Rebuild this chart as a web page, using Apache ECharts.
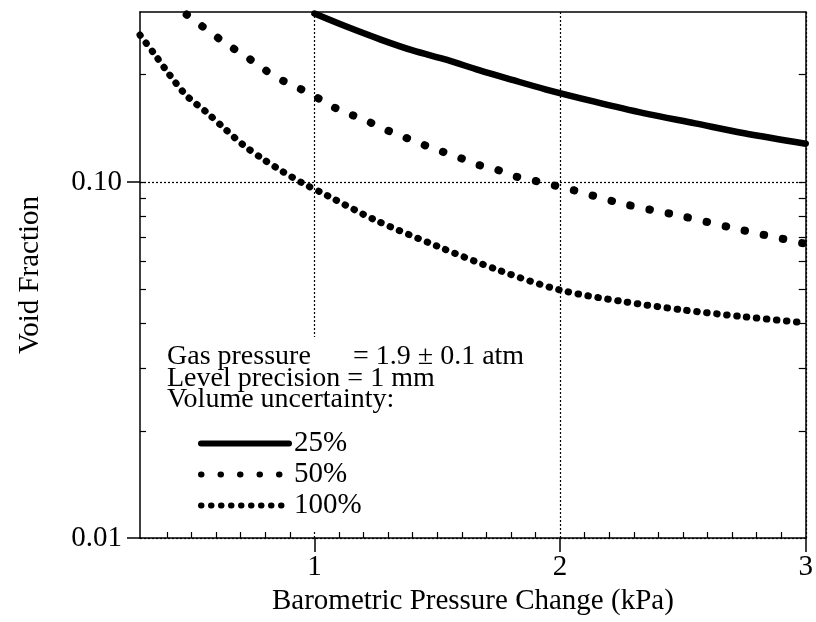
<!DOCTYPE html>
<html>
<head>
<meta charset="utf-8">
<script src="https://cdn.jsdelivr.net/npm/echarts@6/dist/echarts.min.js"></script>
<style>
html,body{margin:0;padding:0;background:#fff;}
#chart{width:816px;height:622px;}
</style>
</head>
<body>
<div id="chart"></div>
<script>
// ---- data ----
var x25 = [1.0, 1.13, 1.27, 1.4, 1.54, 1.67, 1.81, 1.94, 2.14, 2.34, 2.55, 2.75, 3.0];
var y25 = [0.297, 0.273, 0.251, 0.234, 0.220, 0.206, 0.193, 0.182, 0.168, 0.156, 0.146, 0.137, 0.128];

var x50 = [0.48, 0.57, 0.65, 0.73, 0.80, 0.88, 0.96, 1.04, 1.11, 1.20, 1.27, 1.35, 1.42, 1.50, 1.59, 1.66, 1.73, 1.81, 1.89, 1.97, 2.05, 2.25, 2.5, 2.75, 3.0];
var y50 = [0.295, 0.265, 0.242, 0.223, 0.206, 0.191, 0.180, 0.168, 0.158, 0.150, 0.142, 0.135, 0.129, 0.123, 0.117, 0.112, 0.109, 0.104, 0.101, 0.098, 0.095, 0.087, 0.080, 0.073, 0.067];

var x100 = [0.29, 0.35, 0.41, 0.48, 0.56, 0.64, 0.71, 0.79, 0.87, 0.95, 1.03, 1.07, 1.25, 1.5, 1.75, 2.0, 2.25, 2.5, 2.75, 3.0];
var y100 = [0.2585, 0.228, 0.200, 0.1745, 0.157, 0.140, 0.127, 0.116, 0.107, 0.0994, 0.0932, 0.0902, 0.078, 0.066, 0.0565, 0.0497, 0.0462, 0.0437, 0.0418, 0.0402];

var seriesNames = ['25%', '50%', '100%'];
var xTickLabels = [1, 2, 3];
var xMinorTicks = [0.4,0.5,0.6,0.7,0.8,0.9,1.1,1.2,1.3,1.4,1.5,1.6,1.7,1.8,1.9,2.1,2.2,2.3,2.4,2.5,2.6,2.7,2.8,2.9];
var yTickLabels = [0.01, 0.1];
var yMinorTicks = [0.02,0.03,0.04,0.05,0.06,0.07,0.08,0.09,0.2];
var noteLines = ['Gas pressure', 'Level precision = 1 mm', 'Volume uncertainty:'];
var noteGas = '= 1.9 \u00b1 0.1 atm';

function pairs(xs, ys){ return xs.map(function(x,i){ return [x, ys[i]]; }); }

var FONT = '"Liberation Serif", "DejaVu Serif", serif';
var chart = echarts.init(document.getElementById('chart'), null, {renderer:'canvas'});

var xMin = 0.29, xMax = 3, yMin = 0.01, yMax = 0.3;
var axisCol = '#000';

var option = {
  backgroundColor: '#fff',
  animation: false,
  grid: {left: 140, right: 3, top: 12, bottom: 84, containLabel: false},
  xAxis: [
    {
      type: 'value', position: 'bottom', min: xMin, max: xMax,
      name: 'Barometric Pressure Change (kPa)', nameLocation: 'middle', nameGap: 45,
      nameTextStyle: {fontFamily: FONT, fontSize: 29, color: '#000'},
      axisLine: {show: true, onZero: false, lineStyle: {color: axisCol, width: 1.5}},
      axisTick: {show: true, inside: false, length: 14, customValues: xTickLabels, lineStyle: {color: axisCol, width: 1.5}},
      axisLabel: {show: true, margin: 15, customValues: xTickLabels, fontFamily: FONT, fontSize: 29, color: '#000'},
      splitLine: {show: true, lineStyle: {color: '#000', type: [2, 2], width: 1.2}}
    },
    {
      type: 'value', position: 'bottom', min: xMin, max: xMax,
      axisLine: {show: false},
      axisTick: {show: true, inside: true, length: 6, customValues: xMinorTicks, lineStyle: {color: axisCol, width: 1.2}},
      axisLabel: {show: false}, splitLine: {show: false}
    },
    {
      type: 'value', position: 'top', min: xMin, max: xMax,
      axisLine: {show: true, onZero: false, lineStyle: {color: axisCol, width: 1.5}},
      axisTick: {show: false}, axisLabel: {show: false}, splitLine: {show: false}
    }
  ],
  yAxis: [
    {
      type: 'log', logBase: 10, position: 'left', min: yMin, max: yMax,
      name: 'Void Fraction', nameLocation: 'middle', nameGap: 95, nameRotate: 90,
      nameTextStyle: {fontFamily: FONT, fontSize: 29, color: '#000'},
      axisLine: {show: true, onZero: false, lineStyle: {color: axisCol, width: 1.5}},
      axisTick: {show: true, inside: false, length: 13, customValues: yTickLabels, lineStyle: {color: axisCol, width: 1.5}},
      axisLabel: {show: true, margin: 18, customValues: yTickLabels, fontFamily: FONT, fontSize: 29, color: '#000',
        formatter: function(v){ return Number(v).toFixed(2); }},
      splitLine: {show: true, lineStyle: {color: '#000', type: [2, 2], width: 1.2}}
    },
    {
      type: 'log', logBase: 10, position: 'left', min: yMin, max: yMax,
      axisLine: {show: false},
      axisTick: {show: true, inside: true, length: 6, customValues: yMinorTicks.concat([0.1]), lineStyle: {color: axisCol, width: 1.2}},
      axisLabel: {show: false}, splitLine: {show: false}
    },
    {
      type: 'log', logBase: 10, position: 'right', min: yMin, max: yMax,
      axisLine: {show: true, onZero: false, lineStyle: {color: axisCol, width: 1.5}},
      axisTick: {show: true, inside: true, length: 7, customValues: yMinorTicks.concat([0.1]), lineStyle: {color: axisCol, width: 1.2}},
      axisLabel: {show: false}, splitLine: {show: false}
    }
  ],
  legend: {
    show: true, orient: 'vertical', left: 198, top: 429, z: 5, padding: 0,
    data: seriesNames,
    itemWidth: 88, itemHeight: 20, itemGap: 2,
    textStyle: {fontFamily: FONT, fontSize: 29, color: '#000'},
    itemStyle: {opacity: 0},
    lineStyle: {width: 6, opacity: 1}
  },
  graphic: [
    {type: 'rect', z: 1, shape: {x: 160, y: 337, width: 372, height: 193}, style: {fill: '#fff'}},
    {type: 'text', z: 3, left: 167, top: 343, style: {text: noteLines.join('\n'), font: '28px ' + FONT, fill: '#000', lineHeight: 21.5}},
    {type: 'text', z: 3, left: 353, top: 343, style: {text: noteGas, font: '28px ' + FONT, fill: '#000', lineHeight: 21.5}}
  ],
  series: [
    {
      name: seriesNames[0], type: 'line', xAxisIndex: 0, yAxisIndex: 0, z: 4,
      data: pairs(x25, y25), smooth: 0.3, showSymbol: false, symbol: 'none',
      lineStyle: {color: '#000', width: 6.5, type: 'solid', cap: 'round'}, itemStyle: {color: '#000'}
    },
    {
      name: seriesNames[1], type: 'line', xAxisIndex: 0, yAxisIndex: 0, z: 4,
      data: pairs(x50, y50), smooth: 0.3, showSymbol: false, symbol: 'none',
      lineStyle: {color: '#000', width: 8, type: [0.5, 19], cap: 'round'}, itemStyle: {color: '#000'}
    },
    {
      name: seriesNames[2], type: 'line', xAxisIndex: 0, yAxisIndex: 0, z: 4,
      data: pairs(x100, y100), smooth: 0.3, showSymbol: false, symbol: 'none',
      lineStyle: {color: '#000', width: 7, type: [0.5, 9.5], cap: 'round'}, itemStyle: {color: '#000'}
    }
  ]
};
chart.setOption(option);
</script>
</body>
</html>
